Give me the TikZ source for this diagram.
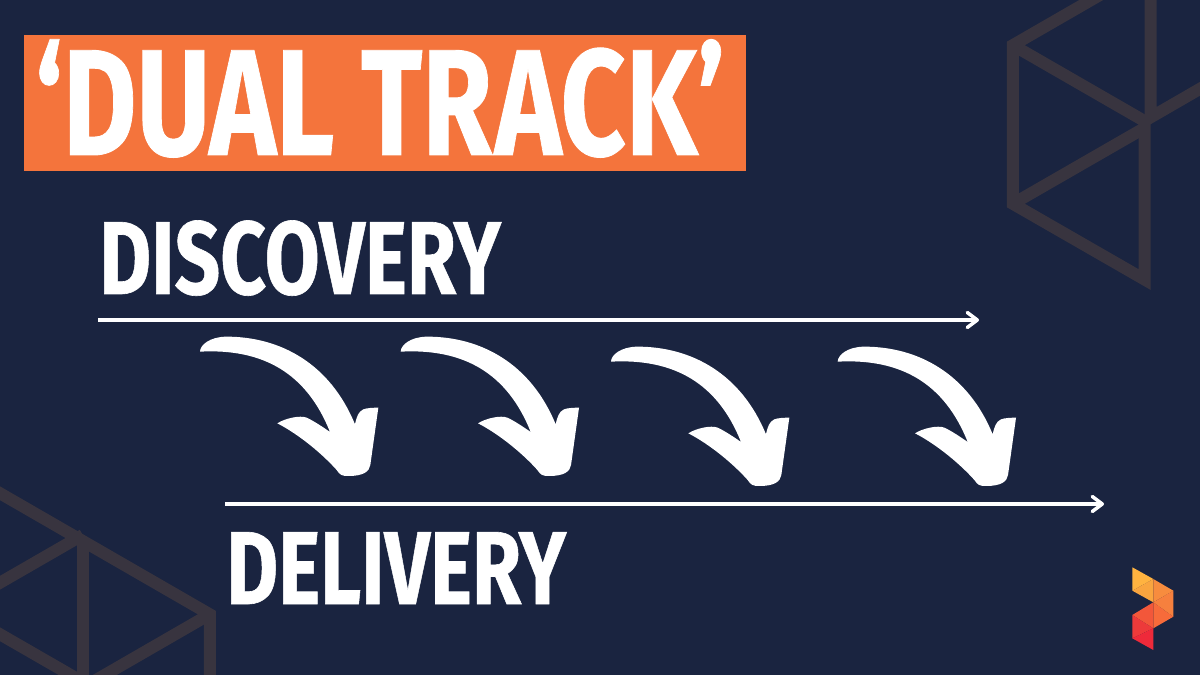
\documentclass[tikz,border=0pt]{standalone}
\usepackage{fontspec}
\setmainfont{Fira Sans}[BoldFeatures={FakeBold=0.6}]
\usetikzlibrary{arrows.meta}
\definecolor{navy}{HTML}{1A2440}
\definecolor{hexline}{HTML}{38343F}
\definecolor{titlebox}{HTML}{F4743C}
\definecolor{logoa}{HTML}{FFB340}
\definecolor{logob}{HTML}{F9A53F}
\definecolor{logoc}{HTML}{F78C3E}
\definecolor{logod}{HTML}{F6803E}
\definecolor{logoe}{HTML}{F76B3A}
\definecolor{logof}{HTML}{F2573A}
\definecolor{logog}{HTML}{ED3A3A}
\definecolor{logoh}{HTML}{EE2A3A}
\tikzset{
  hexedge/.style={draw=hexline, line width=0.24cm, miter limit=10},
  trackline/.style={draw=white, line width=0.07cm, -{Straight Barb[length=0.2cm,width=0.3cm,round]}},
  headword/.style={text=white, inner sep=0pt, anchor=base west, xscale=0.77, transform shape, font=\fontsize{59}{59}\selectfont\bfseries},
  titleword/.style={text=white, inner sep=0pt, anchor=base west, xscale=0.75, transform shape, font=\fontsize{86}{86}\selectfont\bfseries},
}
\newcommand{\curvedarrow}[2]{
  \fill[white, shift={(#1,#2)}, x=0.00667cm, y=-0.00667cm]
    (30,95) .. controls (30,75) and (60,50) .. (110,50)
    .. controls (270,50) and (420,130) .. (495,313)
    .. controls (500,290) and (505,275) .. (520,268)
    .. controls (530,264) and (550,263) .. (565,263)
    -- (541,435) .. controls (538,455) and (520,468) .. (475,468)
    .. controls (455,468) and (450,465) .. (440,450)
    .. controls (400,405) and (330,345) .. (262,310)
    .. controls (285,295) and (330,285) .. (350,293)
    .. controls (370,302) and (400,322) .. (420,336)
    .. controls (350,160) and (220,85) .. (30,95) -- cycle;
}
\begin{document}
\begin{tikzpicture}[x=0.02cm, y=-0.02cm]
  \useasboundingbox (0,0) rectangle (1200,675);
  \fill[navy] (0,0) rectangle (1200,675);

  % hexagons, top right
  \begin{scope}
    \clip (0,0) rectangle (1200,675);
    \draw[hexedge] (1112,-12) -- (1012.8,45.2) -- (1012.8,203.8) -- (1144.5,279.5) -- (1144.5,124);
    \draw[hexedge] (1012.8,45.2) -- (1147,122.5);
    \draw[hexedge] (1012.8,203.8) -- (1144.5,128);
    \draw[hexedge] (1150.5,-10) -- (1150.5,117.4) -- (1210,83);
    % hexagons, bottom left
    \draw[hexedge] (-10,487.5) -- (209.8,614.3) -- (209.8,690);
    \draw[hexedge] (209.8,614.3) -- (70,695);
    \draw[hexedge] (82.8,541) -- (82.8,690);
    \draw[hexedge] (-10,588.5) -- (82.8,535);
    \draw[hexedge] (-10,628.5) -- (95,689);
  \end{scope}

  % title
  \fill[titlebox] (24,35) rectangle (746,171);
  \node[titleword] (title) at (35,155) {‘DUAL TR\kern2pt ACK’};

  % tracks
  \node[headword] (discovery) at (99,294) {DISCOVERY};
  \coordinate (discoverystart) at (98,320);
  \coordinate (discoveryend) at (979,320);
  \draw[trackline] (discoverystart) -- (discoveryend);

  \coordinate (deliverystart) at (225,504);
  \coordinate (deliveryend) at (1104,504);
  \draw[trackline] (deliverystart) -- (deliveryend);
  \node[headword] (delivery) at (226,604) {DELIVERY};

  \curvedarrow{190}{320}
  \curvedarrow{390.7}{320}
  \curvedarrow{601}{330}
  \curvedarrow{827.7}{330}

  % logo
  \fill[logoa] (1132.3,567.3) -- (1153.3,579) -- (1132.3,590.7) -- cycle;
  \fill[logob] (1132.3,590.7) -- (1153.3,579) -- (1153.3,602.3) -- cycle;
  \fill[logoc] (1153.3,579) -- (1173.3,590.7) -- (1153.3,602.3) -- cycle;
  \fill[logod] (1173.3,590.7) -- (1173.3,616.7) -- (1153.3,602.3) -- cycle;
  \fill[logoe] (1153.3,602.3) -- (1173.3,616.7) -- (1153.3,628.3) -- cycle;
  \fill[logof] (1153.3,602.3) -- (1153.3,628.3) -- (1132.3,615) -- cycle;
  \fill[logog] (1132.3,615) -- (1153.3,628.3) -- (1132.3,638.3) -- cycle;
  \fill[logoh] (1132.3,638.3) -- (1153.3,628.3) -- (1153.3,650) -- cycle;
\end{tikzpicture}
\end{document}
